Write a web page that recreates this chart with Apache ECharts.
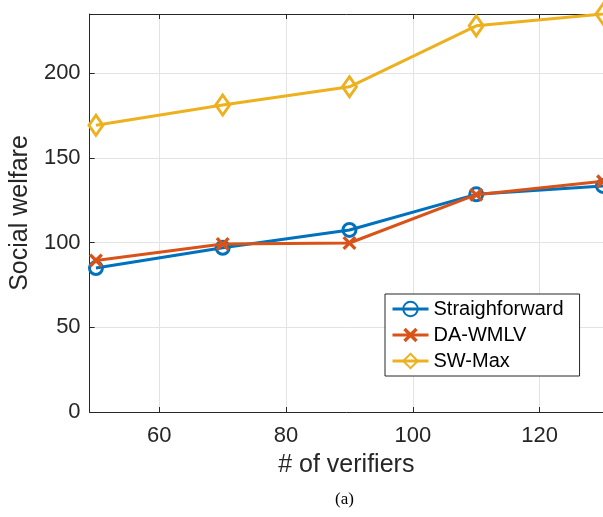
<!DOCTYPE html>
<html>
<head>
<meta charset="utf-8">
<script src="https://cdn.jsdelivr.net/npm/echarts@6/dist/echarts.min.js"></script>
<style>html,body{margin:0;padding:0;background:#fff}#c{width:603px;height:517px}</style>
</head>
<body>
<div id="c"></div>
<script>
const verifiers = [50, 70, 90, 110, 130];
const straightforward = [85, 97, 107.5, 128.5, 133.5];
const daWmlv = [89.5, 99.2, 99.8, 128.3, 136.2];
const swMax = [169.3, 181.3, 192, 228, 235];
const xTicks = [60, 80, 100, 120];
const yTicks = [0, 50, 100, 150, 200];

const FONT = 'Liberation Sans, Arial, sans-serif';
const AX = '#262626';
const pair = (xs, ys) => xs.map((x, i) => [x, ys[i]]);
const xPath = 'path://M0,2L2,0L6,4L10,0L12,2L8,6L12,10L10,12L6,8L2,12L0,10L4,6Z';

const chart = echarts.init(document.getElementById('c'), null, {renderer: 'canvas'});
chart.setOption({
  animation: false,
  backgroundColor: '#fff',
  grid: {left: 88, top: 14, right: 0, bottom: 105, containLabel: false},
  xAxis: [{
    type: 'value', min: 49, max: 130,
    name: '# of verifiers', nameLocation: 'middle', nameGap: 41,
    nameTextStyle: {fontFamily: FONT, fontSize: 25, color: AX},
    axisLine: {show: true, lineStyle: {color: AX, width: 1}},
    axisTick: {show: true, inside: true, length: 5, customValues: xTicks, lineStyle: {color: AX}},
    axisLabel: {customValues: xTicks, fontFamily: FONT, fontSize: 22, color: AX, margin: 13},
    splitLine: {show: true, lineStyle: {color: '#e3e3e3', width: 1}}
  }, {
    type: 'value', min: 49, max: 130, position: 'top',
    axisLine: {show: true, lineStyle: {color: AX, width: 1}},
    axisTick: {show: true, inside: true, length: 5, customValues: xTicks, lineStyle: {color: AX}},
    axisLabel: {show: false},
    splitLine: {show: false}
  }],
  yAxis: [{
    type: 'value', min: 0, max: 235,
    name: 'Social welfare', nameLocation: 'middle', nameGap: 49,
    nameTextStyle: {fontFamily: FONT, fontSize: 25, color: AX},
    axisLine: {show: true, lineStyle: {color: AX, width: 1}},
    axisTick: {show: true, inside: true, length: 5, customValues: yTicks, lineStyle: {color: AX}},
    axisLabel: {customValues: yTicks, fontFamily: FONT, fontSize: 22, color: AX, margin: 9},
    splitLine: {show: true, lineStyle: {color: '#e3e3e3', width: 1}}
  }],
  legend: {
    orient: 'vertical', left: 385, top: 294,
    backgroundColor: '#fff', borderColor: AX, borderWidth: 1,
    padding: [5, 16, 5, 6], itemGap: 6, itemWidth: 36, itemHeight: 18,
    lineStyle: {width: 3},
    textStyle: {fontFamily: FONT, fontSize: 20, color: '#000', lineHeight: 20},
    data: ['Straighforward', 'DA-WMLV', 'SW-Max']
  },
  series: [{
    name: 'Straighforward', type: 'line', data: pair(verifiers, straightforward),
    symbol: 'circle', symbolSize: 13,
    lineStyle: {color: '#0072BD', width: 3},
    itemStyle: {color: 'rgba(0,0,0,0)', borderColor: '#0072BD', borderWidth: 3},
    z: 2
  }, {
    name: 'DA-WMLV', type: 'line', data: pair(verifiers, daWmlv),
    symbol: xPath, symbolSize: 14,
    lineStyle: {color: '#D95319', width: 3},
    itemStyle: {color: '#D95319', borderWidth: 0},
    z: 3
  }, {
    name: 'SW-Max', type: 'line', data: pair(verifiers, swMax),
    symbol: 'diamond', symbolSize: [14, 20],
    lineStyle: {color: '#EDB120', width: 3},
    itemStyle: {color: 'rgba(0,0,0,0)', borderColor: '#EDB120', borderWidth: 3},
    z: 4
  }],
  graphic: [{
    type: 'text', left: 335, top: 491,
    style: {text: '(a)', font: '17px "Liberation Serif", "Times New Roman", serif', fill: '#000'}
  }]
});
</script>
</body>
</html>
